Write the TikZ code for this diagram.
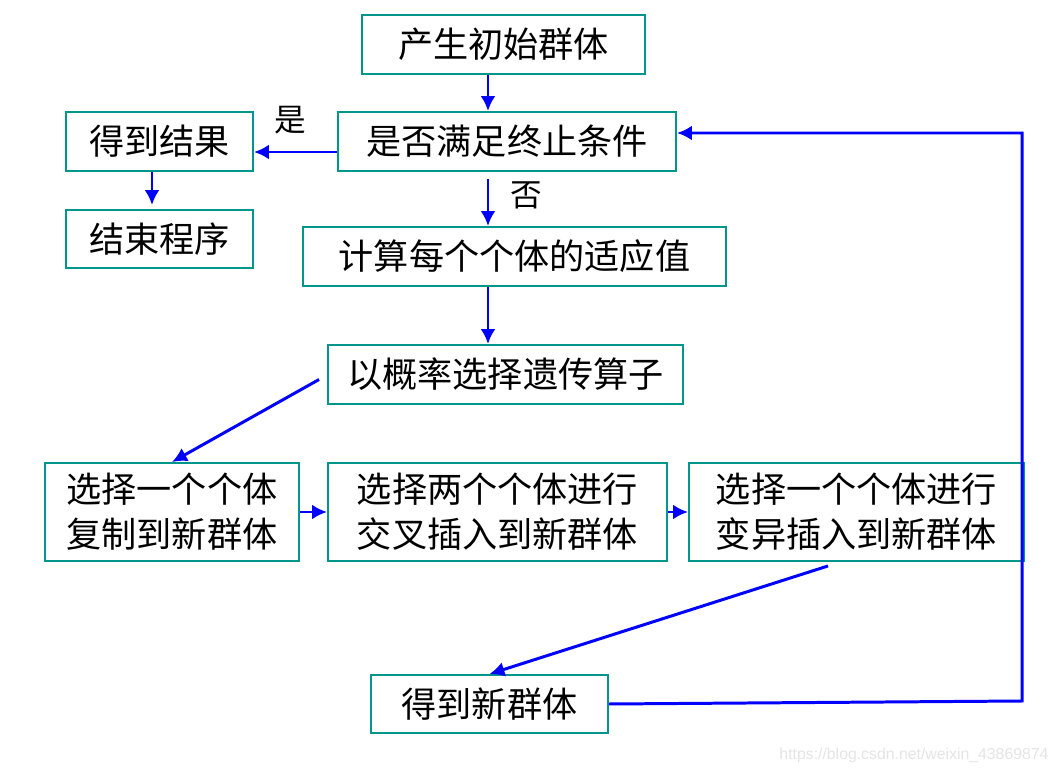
\documentclass[tikz,border=0pt]{standalone}
\usepackage{fontspec}
\newfontfamily\cjk{Noto Sans CJK SC}
\newfontfamily\markfont{Liberation Sans}
\definecolor{BoxTeal} {RGB}{0,150,140}
\definecolor{FlowBlue}{RGB}{0,0,255}
\definecolor{MarkGray}{RGB}{228,228,228}
\usetikzlibrary{arrows.meta,positioning,calc}

\begin{document}
\begin{tikzpicture}[every node/.style={font=\cjk\fontsize{20}{25.6}\selectfont},
    box/.style={draw=BoxTeal,line width=1.1pt,align=center,inner sep=0pt},
    flow/.style={-{Latex[length=8.5pt,width=8.5pt]},FlowBlue,line width=1.7pt},
    tag/.style={font=\cjk\fontsize{18}{22}\selectfont}]
  \useasboundingbox (0,0) rectangle (21.18,15.52);
  \foreach \nm/\x/\y/\w/\h/\t in {
      init/10.07/14.63/5.66/1.18/{产生初始群体},
      check/10.14/12.69/6.76/1.18/{是否满足终止条件},
      result/3.19/12.69/3.74/1.18/{得到结果},
      finish/3.19/10.74/3.74/1.16/{结束程序},
      fitness/10.29/10.39/8.46/1.18/{计算每个个体的适应值},
      select/10.11/8.03/7.10/1.18/{以概率选择遗传算子},
      copyop/3.44/5.28/5.08/1.96/{选择一个个体\\复制到新群体},
      crossop/9.95/5.28/6.78/1.96/{选择两个个体进行\\交叉插入到新群体},
      mutop/17.13/5.28/6.70/1.96/{选择一个个体进行\\变异插入到新群体},
      newpop/9.79/1.44/4.74/1.16/{得到新群体}}{
    \node[box,minimum width=\w cm,minimum height=\h cm] (\nm) at (\x,\y) {\t};
  }
  \coordinate (spine) at (9.76,0);
  \coordinate (loopA) at (20.44,1.50);
  \coordinate (loopB) at (20.44,12.86);
  % main column
  \draw[flow] (init.south -| spine) -- (check.north -| spine);
  \draw[flow] ($(check.south -| spine)+(0,-0.14)$) -- (fitness.north -| spine);
  \draw[flow] (fitness.south -| spine) -- (select.north -| spine);
  % stop branch
  \draw[flow] ([yshift=-0.21cm]check.west) -- ([yshift=-0.21cm]result.east);
  \draw[flow] ([xshift=-0.15cm]result.south) -- ([xshift=-0.15cm,yshift=0.08cm]finish.north);
  \node[tag] (yes) at (5.80,13.12) {是};
  \node[tag] (no) at (10.52,11.62) {否};
  % operators
  \draw[flow] ($(select.west)+(-0.16,-0.10)$) -- (copyop.north);
  \draw[flow] (copyop.east) -- (crossop.west);
  \draw[flow] (crossop.east) -- (mutop.west);
  \draw[flow] ($(mutop.south)+(-0.57,-0.08)$) -- (newpop.north);
  % back to the test
  \draw[flow] (newpop.east) -- (loopA) -- (loopB) -- (loopB -| check.east);
  \node[font=\markfont\fontsize{9}{11}\selectfont,text=MarkGray] (mark) at (18.28,0.42)
    {https://blog.csdn.net/weixin\_43869874};
\end{tikzpicture}
\end{document}
